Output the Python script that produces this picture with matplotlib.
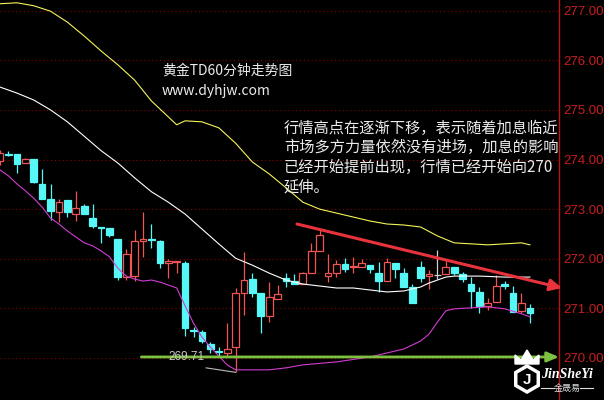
import numpy as np
import matplotlib
matplotlib.use('Agg')
import matplotlib.pyplot as plt
from matplotlib.patches import Polygon, RegularPolygon

plt.rcParams['font.family'] = ['Noto Sans CJK SC', 'DejaVu Sans']

# K线数据 (60分钟)
opens = [273.98, 274.12, 274.11, 273.93, 274.01, 273.51, 273.20, 272.94, 273.18, 272.90,
         273.06, 272.82, 272.63, 272.62, 272.40, 271.63, 271.65, 272.36, 272.40, 272.36,
         271.91, 271.93, 271.91, 270.56, 270.52, 270.28, 270.13, 270.10, 270.22, 271.31,
         271.59, 271.31, 270.85, 271.19, 271.61, 271.55, 271.49, 271.71, 272.16, 271.65,
         271.71, 271.89, 271.83, 271.83, 271.87, 271.71, 271.55, 271.91, 271.71, 271.43,
         271.83, 271.65, 271.67, 271.69, 271.83, 271.69, 271.49, 271.33, 271.05, 271.13,
         271.49, 271.31, 270.95, 271.01]
highs = [274.19, 274.17, 274.11, 274.03, 274.01, 273.81, 273.51, 273.20, 273.18, 273.37,
         273.10, 273.10, 272.64, 272.62, 272.40, 272.20, 272.58, 272.94, 272.70, 272.38,
         271.99, 271.96, 271.95, 270.62, 270.56, 270.32, 270.22, 270.70, 271.41, 272.14,
         271.71, 271.31, 271.53, 271.47, 271.71, 271.69, 271.73, 272.32, 272.60, 272.10,
         271.97, 272.01, 272.03, 271.99, 271.87, 271.93, 272.01, 271.91, 271.81, 271.49,
         271.95, 271.77, 272.18, 271.95, 271.83, 271.73, 271.63, 271.43, 271.21, 271.67,
         271.55, 271.45, 271.31, 271.09]
lows = [273.89, 274.07, 273.73, 273.93, 273.53, 273.20, 272.78, 272.74, 272.84, 272.76,
        272.90, 272.62, 272.32, 272.44, 271.57, 271.57, 271.55, 272.03, 272.22, 271.81,
        271.61, 271.71, 270.44, 270.42, 270.30, 270.10, 270.04, 270.02, 269.71, 270.87,
        271.23, 270.50, 270.72, 271.19, 271.43, 271.49, 271.49, 271.71, 272.16, 271.53,
        271.63, 271.73, 271.71, 271.83, 271.71, 271.33, 271.55, 271.61, 271.43, 271.11,
        271.53, 271.39, 271.59, 271.69, 271.67, 271.53, 271.01, 270.91, 270.97, 271.13,
        271.39, 270.93, 270.91, 270.70]
closes = [274.13, 274.09, 273.91, 274.01, 273.55, 273.20, 272.96, 273.14, 272.94, 273.02,
          272.90, 272.66, 272.61, 272.48, 271.63, 272.10, 272.36, 272.40, 272.38, 271.91,
          271.95, 271.95, 270.60, 270.54, 270.34, 270.18, 270.11, 270.18, 271.31, 271.57,
          271.31, 270.85, 271.23, 271.29, 271.55, 271.49, 271.71, 272.16, 272.48, 271.71,
          271.89, 271.79, 271.85, 271.91, 271.79, 271.55, 271.93, 271.79, 271.43, 271.11,
          271.61, 271.69, 271.67, 271.83, 271.71, 271.59, 271.35, 271.05, 271.11, 271.45,
          271.45, 270.93, 271.11, 270.91]

# 布林线 (上轨/中轨/下轨)，按K线序号取点
upper_idx = [1, 3, 5, 7, 9, 11, 13, 15, 17, 19, 21, 22, 23, 25, 27, 29, 31, 33, 35, 37,
             39, 41, 43, 45, 47, 49, 51, 53, 55, 57, 59, 61, 63, 64]
upper = [277.14, 277.16, 277.10, 276.99, 276.77, 276.49, 276.19, 275.91, 275.60, 275.18,
         274.86, 274.70, 274.78, 274.76, 274.64, 274.33, 273.95, 273.71, 273.43, 273.14,
         273.00, 272.92, 272.84, 272.76, 272.70, 272.68, 272.64, 272.46, 272.32, 272.30,
         272.28, 272.30, 272.32, 272.28]
middle_idx = [1, 3, 5, 7, 9, 11, 13, 15, 17, 19, 21, 23, 25, 27, 29, 31, 33, 35, 37, 39,
              41, 43, 45, 47, 49, 51, 52, 53, 54, 55, 58, 61, 64]
middle = [275.46, 275.34, 275.20, 275.00, 274.76, 274.47, 274.18, 273.93, 273.63, 273.35,
          273.14, 272.90, 272.60, 272.30, 272.01, 271.87, 271.71, 271.57, 271.49, 271.45,
          271.41, 271.41, 271.37, 271.33, 271.35, 271.43, 271.51, 271.57, 271.63, 271.65,
          271.65, 271.63, 271.63]
lower_idx = [1, 2, 3, 4, 5, 6, 7, 8, 9, 10, 11, 12, 13, 14, 15, 16, 17, 18, 19, 20,
             21, 22, 23, 24, 25, 26, 27, 28, 29, 31, 33, 35, 37, 41, 45, 49,
             51, 52, 53, 54, 55, 57, 59, 61, 63, 64]
lower = [273.79, 273.67, 273.51, 273.37, 273.22, 273.04, 272.82, 272.70, 272.56, 272.44,
         272.32, 272.26, 272.16, 272.04, 271.81, 271.65, 271.59, 271.55, 271.57, 271.53,
         271.47, 271.41, 271.05, 270.70, 270.42, 270.22, 270.04, 269.86, 269.76,
         269.76, 269.76, 269.80, 269.86, 269.92, 270.02, 270.18,
         270.34, 270.48, 270.72, 270.95, 270.99, 271.01, 271.03, 270.99, 270.89, 270.83]

# 画线 (趋势线/支撑线)
trend_x = [36.3, 67.8]
trend_y = [272.70, 271.41]
support_x = [17.8, 67.45]
support_y = 270.02
low_price = 269.71
low_idx = 29

tick_vals = [270, 271, 272, 273, 274, 275, 276, 277]
tick_labels = ['%.2f' % v for v in tick_vals]

title = '黄金TD60分钟走势图'
site = 'www.dyhjw.com'
note_lines = ['行情高点在逐渐下移，表示随着加息临近',
              '市场多方力量依然没有进场，加息的影响',
              '已经开始提前出现，行情已经开始向270',
              '延伸。']

RED = '#f05555'
CYAN = '#55f7f7'

fig = plt.figure(figsize=(6.04, 4.0), dpi=100, facecolor='black')
ax = fig.add_axes([0, 0, 559 / 604, 1])
ax.set_facecolor('black')

idx = np.arange(1, len(opens) + 1)
o = np.array(opens); c = np.array(closes)
colors = [RED if cc > oo else (CYAN if cc < oo else '#d0d0d0') for oo, cc in zip(o, c)]
faces = ['black' if cc > oo else col for oo, cc, col in zip(o, c, colors)]

# 网格
for v in tick_vals:
    ax.axhline(v, color='#8a0000', ls=(0, (1, 2.5)), lw=0.8, zorder=1)

ax.vlines(idx, lows, highs, colors=colors, lw=0.9, zorder=2)
ax.bar(idx, np.abs(c - o), bottom=np.minimum(o, c), width=0.8,
       color=faces, edgecolor=colors, linewidth=0.9, zorder=3)

ax.plot(upper_idx, upper, color='#f4f45a', lw=0.8, zorder=4)
ax.plot(middle_idx, middle, color='white', lw=0.8, zorder=4)
ax.plot(lower_idx, lower, color='#d23cd2', lw=0.8, zorder=4)

# 最低价标记
ax.text(21.0, support_y, '%.2f' % low_price, color='#c8c8c8', fontsize=8.5,
        fontfamily='Liberation Sans', va='center', ha='left', zorder=6)
ax.plot([25.5, low_idx], [269.80, low_price], color='#bbbbbb', lw=0.8, zorder=5)

ax.annotate('', xy=(trend_x[1], trend_y[1]), xytext=(trend_x[0], trend_y[0]),
            arrowprops=dict(arrowstyle='-|>,head_length=0.7,head_width=0.35',
                            color='#e8333c', lw=2.2, shrinkA=0, shrinkB=0),
            annotation_clip=False, zorder=7)
ax.annotate('', xy=(support_x[1], support_y), xytext=(support_x[0], support_y),
            arrowprops=dict(arrowstyle='-|>,head_length=0.7,head_width=0.3',
                            color='#7dc142', lw=2.0, shrinkA=0, shrinkB=0),
            annotation_clip=False, zorder=5)

ax.set_xlim(0.99, 67.46)
ax.set_ylim(269.152, 277.216)
ax.set_xticks([])
ax.yaxis.tick_right()
ax.set_yticks(tick_vals)
ax.set_yticklabels(tick_labels, fontfamily='Liberation Sans', fontsize=9.5, color='#c81e1e')
ax.tick_params(axis='y', length=0, pad=3)
for s in ['top', 'left', 'bottom']:
    ax.spines[s].set_visible(False)
ax.spines['right'].set_color('#c01010')
ax.spines['right'].set_linewidth(1)

# 文字与水印 (像素坐标)
ov = fig.add_axes([0, 0, 1, 1])
ov.set_xlim(0, 604); ov.set_ylim(400, 0)
ov.axis('off')
ov.patch.set_alpha(0)
ov.text(162, 71, title, fontsize=10, color='#ececec', va='center', ha='left')
ov.text(162, 91, site, fontsize=10, color='#ececec', va='center', ha='left')
for k, line in enumerate(note_lines):
    ov.text(284, 128 + k * 19.6, line, fontsize=11, color='#ececec', va='center', ha='left')

ov.add_patch(Polygon([(515, 364), (515, 355), (521, 360), (527, 350), (533, 360),
                      (539, 355), (539, 364)], closed=True, color='white'))
ov.add_patch(RegularPolygon((527, 379), 6, radius=13, orientation=0,
                            facecolor='none', edgecolor='white', lw=2.5))
ov.text(527, 380, 'J', fontsize=11, color='white', fontweight='bold',
        fontfamily='Liberation Sans', ha='center', va='center')
ov.text(567, 375, 'JinSheYi', fontsize=10, color='white', fontstyle='italic',
        fontweight='bold', fontfamily='Liberation Serif', ha='center', va='center')
ov.text(567, 388, '金晟易', fontsize=6.5, color='#dddddd', ha='center', va='center')
ov.plot([541, 554], [388, 388], color='#dddddd', lw=0.8)
ov.plot([580, 593], [388, 388], color='#dddddd', lw=0.8)

fig.savefig('out.png', dpi=100, facecolor='black')
